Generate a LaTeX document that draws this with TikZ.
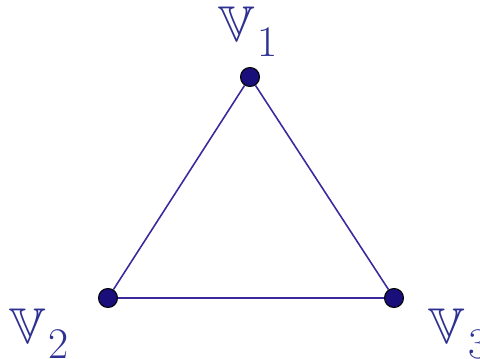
\documentclass[tikz,border=0pt]{standalone}
\usepackage{amsmath}
\usepackage{amssymb}
\usepackage{tikz}
\usepackage{xcolor}
\usetikzlibrary{positioning}

\definecolor{vertexblue}{HTML}{1A0F7A}
\definecolor{edgeblue}{HTML}{3B2A9E}
\definecolor{labelblue}{HTML}{2E3192}

\begin{document}
\begin{tikzpicture}[
                vertex_dot/.style={circle, fill=vertexblue, draw=black, line width=0.6pt, minimum size=0.38cm, inner sep=0pt},
                edge_line/.style={draw=edgeblue, line width=0.9pt},
                vertex_label/.style={text=labelblue, font=\fontsize{24.88}{30}\selectfont, inner sep=0pt}
            ]
                \useasboundingbox (0,0) rectangle (9.6,7.18);

                % Vertices
                \node[vertex_dot] (v1) at (5.0,5.64) {};
                \node[vertex_dot] (v2) at (2.16,1.22) {};
                \node[vertex_dot] (v3) at (7.88,1.22) {};

                % Edges
                \draw[edge_line] (v1) -- (v2) -- (v3) -- (v1);

                % Labels
                \node[vertex_label] (l1) at (4.96,6.55) {\scalebox{1.15}{\usefont{U}{msb}{m}{n}V}\kern2pt\raisebox{-8.5pt}{1}};
                \node[vertex_label] (l2) at (0.78,0.5) {\scalebox{1.15}{\usefont{U}{msb}{m}{n}V}\kern2pt\raisebox{-8.5pt}{2}};
                \node[vertex_label, anchor=west] (l3) at (8.56,0.5) {\scalebox{1.15}{\usefont{U}{msb}{m}{n}V}\kern2pt\raisebox{-8.5pt}{3}};

            \end{tikzpicture}
\end{document}
